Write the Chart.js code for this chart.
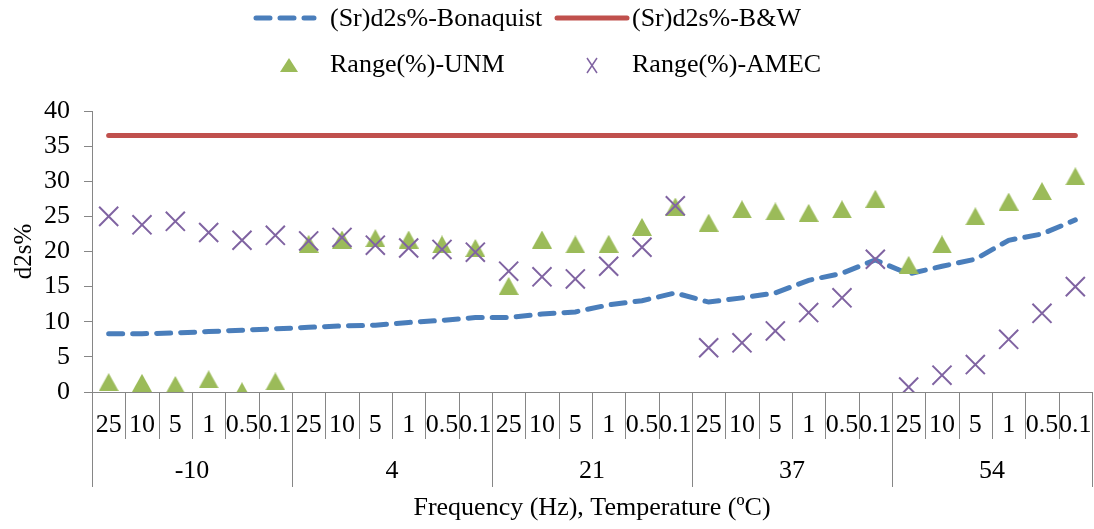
<!DOCTYPE html>
<html>
<head>
<meta charset="utf-8">
<script src="https://cdn.jsdelivr.net/npm/chart.js@4.4.1/dist/chart.umd.min.js"></script>
<style>
  html, body { margin: 0; padding: 0; background: #fff; }
  #wrap { width: 1094px; height: 529px; }
</style>
</head>
<body>
<div id="wrap"><canvas id="myChart" width="1094" height="529"></canvas></div>
<script>
// temperatures (group labels) and frequencies (tick labels)
const temperatures = ['-10', '4', '21', '37', '54'];
const frequencies = ['25', '10', '5', '1', '0.5', '0.1'];

// series values, 30 points each (temp x freq)
const bonaquist = [8.3, 8.3, 8.4, 8.6, 8.8, 9.0, 9.2, 9.4, 9.5, 9.9,
                   10.2, 10.6, 10.6, 11.1, 11.4, 12.4, 13.0, 14.1, 12.8, 13.4,
                   14.1, 15.9, 16.9, 18.8, 16.8, 17.9, 18.9, 21.6, 22.5, 24.5];
const bAndW = [36.5, 36.5, 36.5, 36.5, 36.5, 36.5, 36.5, 36.5, 36.5, 36.5,
               36.5, 36.5, 36.5, 36.5, 36.5, 36.5, 36.5, 36.5, 36.5, 36.5,
               36.5, 36.5, 36.5, 36.5, 36.5, 36.5, 36.5, 36.5, 36.5, 36.5];
const unm = [1.4, 1.3, 1.0, 1.8, 0.1, 1.5, 21.1, 21.7, 21.9, 21.7,
             21.0, 20.5, 15.1, 21.7, 21.0, 21.1, 23.5, 26.4, 24.1, 26.0,
             25.7, 25.5, 26.0, 27.5, 18.1, 21.0, 25.0, 27.1, 28.6, 30.7];
const amec = [25.0, 23.8, 24.3, 22.7, 21.6, 22.3, 21.5, 22.0, 20.9, 20.5,
              20.3, 19.9, 17.2, 16.4, 16.1, 17.9, 20.6, 26.5, 6.3, 7.0,
              8.7, 11.3, 13.4, 18.9, 0.7, 2.4, 3.9, 7.5, 11.2, 15.0];

const FONT = "'Liberation Serif', 'Times New Roman', serif";
const AXIS_GREY = '#868686';

// triangle marker centred on its bounding box (like Excel)
function makeTriangle(w, h, color) {
    const c = document.createElement('canvas');
    c.width = w;
    c.height = h;
    const g = c.getContext('2d');
    g.fillStyle = color;
    g.beginPath();
    g.moveTo(w / 2, 0);
    g.lineTo(w, h);
    g.lineTo(0, h);
    g.closePath();
    g.fill();
    return c;
}
const triMarker = makeTriangle(20, 18, '#9BBB59');

// x labels: frequency repeated per temperature
const labels = [];
temperatures.forEach(() => frequencies.forEach(f => labels.push(f)));

// group labels + separator lines under the x axis
const groupAxisPlugin = {
    id: 'groupAxis',
    afterDraw(chart) {
        const ctx = chart.ctx;
        const xs = chart.scales.x;
        const y0 = chart.chartArea.bottom;
        ctx.save();
        ctx.strokeStyle = AXIS_GREY;
        ctx.lineWidth = 1;
        for (let b = 0; b <= labels.length; b++) {
            const x = Math.round(xs.getPixelForValue(b - 0.5)) + 0.5;
            const len = (b % frequencies.length === 0) ? 95 : 47;
            ctx.beginPath();
            ctx.moveTo(x, y0);
            ctx.lineTo(x, y0 + len);
            ctx.stroke();
        }
        ctx.fillStyle = '#000';
        ctx.font = '26px ' + FONT;
        ctx.textAlign = 'center';
        ctx.textBaseline = 'middle';
        temperatures.forEach((t, g) => {
            const mid = g * frequencies.length + (frequencies.length - 1) / 2;
            ctx.fillText(t, xs.getPixelForValue(mid), 471);
        });
        ctx.restore();
    }
};

// legend in two rows like the original
const legendPlugin = {
    id: 'twoRowLegend',
    afterDraw(chart) {
        const ctx = chart.ctx;
        const ds = chart.data.datasets;
        ctx.save();
        ctx.font = '26px ' + FONT;
        ctx.fillStyle = '#000';
        ctx.textBaseline = 'middle';
        ctx.textAlign = 'left';

        // row 1: dashed blue line
        ctx.strokeStyle = ds[0].borderColor;
        ctx.lineWidth = 5;
        ctx.lineCap = 'round';
        ctx.setLineDash([14, 10]);
        ctx.beginPath();
        ctx.moveTo(256, 18);
        ctx.lineTo(314, 18);
        ctx.stroke();
        ctx.setLineDash([]);
        ctx.fillText(ds[0].label, 330, 19);

        // row 1: solid red line
        ctx.strokeStyle = ds[1].borderColor;
        ctx.beginPath();
        ctx.moveTo(557, 18);
        ctx.lineTo(627, 18);
        ctx.stroke();
        ctx.fillText(ds[1].label, 632, 19);

        // row 2: triangle
        ctx.fillStyle = ds[2].backgroundColor;
        ctx.beginPath();
        ctx.moveTo(289, 58);
        ctx.lineTo(298, 72);
        ctx.lineTo(280, 72);
        ctx.closePath();
        ctx.fill();
        ctx.fillStyle = '#000';
        ctx.fillText(ds[2].label, 330, 65);

        // row 2: cross
        ctx.strokeStyle = ds[3].borderColor;
        ctx.lineWidth = 1.5;
        ctx.lineCap = 'butt';
        ctx.beginPath();
        ctx.moveTo(587, 58); ctx.lineTo(597, 73);
        ctx.moveTo(597, 58); ctx.lineTo(587, 73);
        ctx.stroke();
        ctx.fillText(ds[3].label, 632, 65);
        ctx.restore();
    }
};

const ctx = document.getElementById('myChart').getContext('2d');
window.myChart = new Chart(ctx, {
    type: 'line',
    data: {
        labels: labels,
        datasets: [{
            label: '(Sr)d2s%-Bonaquist',
            data: bonaquist,
            borderColor: '#4A7EBB',
            borderWidth: 5,
            borderDash: [14, 10],
            borderCapStyle: 'round',
            pointRadius: 0,
            fill: false,
            tension: 0,
            order: 3
        }, {
            label: '(Sr)d2s%-B&W',
            data: bAndW,
            borderColor: '#C0504D',
            borderWidth: 5,
            borderCapStyle: 'round',
            pointRadius: 0,
            fill: false,
            order: 2
        }, {
            label: 'Range(%)-UNM',
            data: unm,
            showLine: false,
            backgroundColor: '#9BBB59',
            borderColor: '#9BBB59',
            pointStyle: triMarker,
            order: 1
        }, {
            label: 'Range(%)-AMEC',
            data: amec,
            showLine: false,
            borderColor: '#8064A2',
            backgroundColor: '#8064A2',
            pointStyle: 'crossRot',
            pointRadius: 13.5,
            pointBorderWidth: 2,
            order: 0
        }]
    },
    options: {
        responsive: false,
        animation: false,
        devicePixelRatio: 1,
        layout: {
            autoPadding: false,
            padding: { top: 111, right: 2, left: 0, bottom: 0 }
        },
        plugins: {
            legend: { display: false },
            tooltip: { enabled: false }
        },
        scales: {
            x: {
                offset: true,
                grid: { display: false, drawTicks: true, tickLength: 18 },
                border: { display: true, color: AXIS_GREY, width: 1 },
                ticks: {
                    autoSkip: false, maxRotation: 0, minRotation: 0,
                    padding: 0, color: '#000',
                    font: { family: FONT, size: 26 }
                },
                title: {
                    display: true,
                    text: 'Frequency (Hz), Temperature (ºC)',
                    color: '#000',
                    font: { family: FONT, size: 26 },
                    padding: { top: 0, bottom: 5 }
                },
                afterFit(scale) {
                    scale.height = 137;
                    scale.paddingLeft = 0;
                    scale.paddingRight = 0;
                }
            },
            y: {
                min: 0,
                max: 40,
                ticks: {
                    stepSize: 5, padding: 14, color: '#000',
                    font: { family: FONT, size: 26 }
                },
                grid: { drawOnChartArea: false, tickLength: 8, color: AXIS_GREY },
                border: { color: AXIS_GREY, width: 1 },
                title: {
                    display: true,
                    text: 'd2s%',
                    color: '#000',
                    font: { family: FONT, size: 25 },
                    padding: { top: 9, bottom: 0 }
                },
                afterFit(scale) { scale.width = 92; }
            }
        }
    },
    plugins: [groupAxisPlugin, legendPlugin]
});
</script>
</body>
</html>
